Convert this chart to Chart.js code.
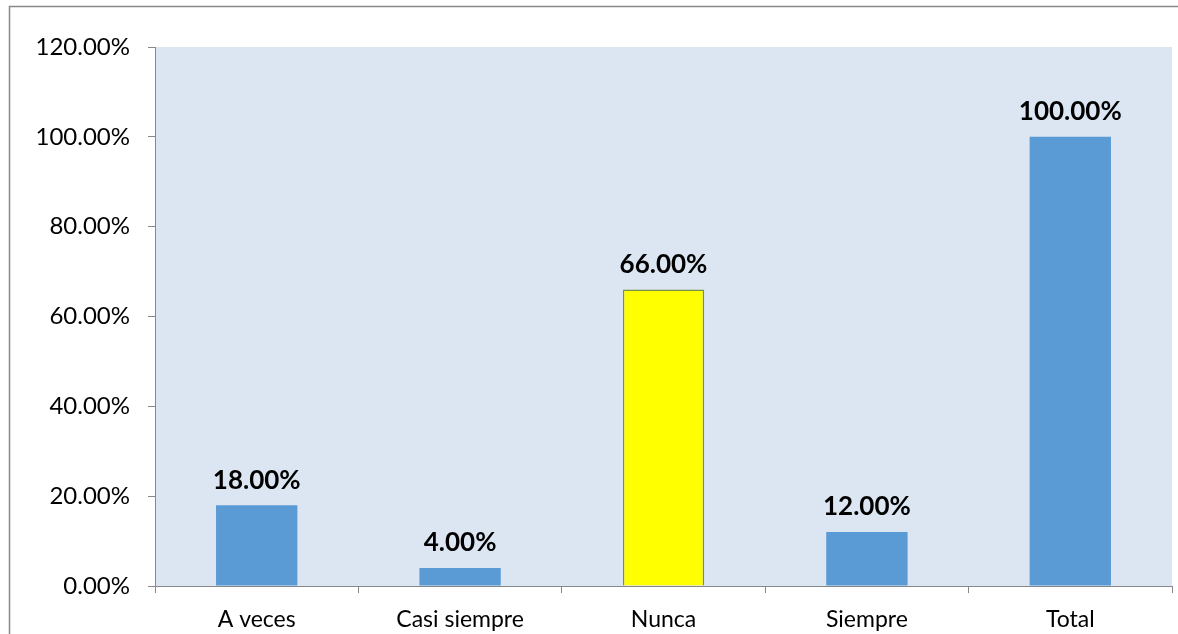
<!DOCTYPE html>
<html>
<head>
<meta charset="utf-8">
<script src="https://cdn.jsdelivr.net/npm/chart.js@4"></script>
<style>
    html, body { margin: 0; padding: 0; background: #fff; }
    #wrap { width: 1178px; height: 634px; position: relative; }
</style>
</head>
<body>
<div id="wrap"><canvas id="chart"></canvas></div>
<script>
const categories = ['A veces', 'Casi siempre', 'Nunca', 'Siempre', 'Total'];
const percentValues = [18, 4, 66, 12, 100];
const barColors = ['#5B9BD5', '#5B9BD5', '#FFFF00', '#5B9BD5', '#5B9BD5'];
const barBorders = ['#5B9BD5', '#5B9BD5', '#77933C', '#5B9BD5', '#5B9BD5'];
const barBorderWidths = [0, 0, 1.5, 0, 0];

const fontFamily = 'Lato, "Open Sans", sans-serif';

// Outer frame and plot background
const frame = {
    id: 'frame',
    beforeDraw(chart) {
        const ctx = chart.ctx;
        const a = chart.chartArea;
        ctx.save();
        ctx.fillStyle = '#DCE6F2';
        ctx.fillRect(a.left, a.top, a.right - a.left, a.bottom - a.top);
        ctx.strokeStyle = '#888888';
        ctx.lineWidth = 1.5;
        ctx.strokeRect(9.5, 6.5, 1200, 700);
        ctx.restore();
    }
};

// Value labels above each bar
const valueLabels = {
    id: 'valueLabels',
    afterDatasetsDraw(chart) {
        const ctx = chart.ctx;
        const meta = chart.getDatasetMeta(0);
        ctx.save();
        ctx.font = 'bold 26px ' + fontFamily;
        ctx.fillStyle = '#000';
        ctx.textAlign = 'center';
        ctx.textBaseline = 'bottom';
        meta.data.forEach((bar, i) => {
            ctx.fillText(percentValues[i].toFixed(2) + '%', bar.x, bar.y - 12);
        });
        ctx.restore();
    }
};

new Chart(document.getElementById('chart'), {
    type: 'bar',
    data: {
        labels: categories,
        datasets: [{
            data: percentValues,
            backgroundColor: barColors,
            borderColor: barBorders,
            borderWidth: barBorderWidths,
            barPercentage: 0.4,
            categoryPercentage: 1
        }]
    },
    options: {
        responsive: true,
        maintainAspectRatio: false,
        animation: false,
        layout: { padding: { top: 47, right: 6, left: 0, bottom: 0 } },
        plugins: {
            legend: { display: false },
            tooltip: { enabled: false }
        },
        scales: {
            x: {
                grid: {
                    offset: true,
                    drawOnChartArea: false,
                    tickLength: 7,
                    color: '#888888'
                },
                border: { color: '#888888', width: 1 },
                ticks: {
                    color: '#000',
                    padding: 13,
                    font: { family: fontFamily, size: 23 }
                },
                afterFit(scale) { scale.height = 48; }
            },
            y: {
                min: 0,
                max: 120,
                grid: {
                    drawOnChartArea: false,
                    tickLength: 7,
                    color: '#888888'
                },
                border: { color: '#888888', width: 1 },
                ticks: {
                    stepSize: 20,
                    color: '#000',
                    padding: 18,
                    font: { family: fontFamily, size: 24 },
                    callback: v => v.toFixed(2) + '%'
                },
                afterFit(scale) { scale.width = 155; }
            }
        }
    },
    plugins: [frame, valueLabels]
});
</script>
</body>
</html>
